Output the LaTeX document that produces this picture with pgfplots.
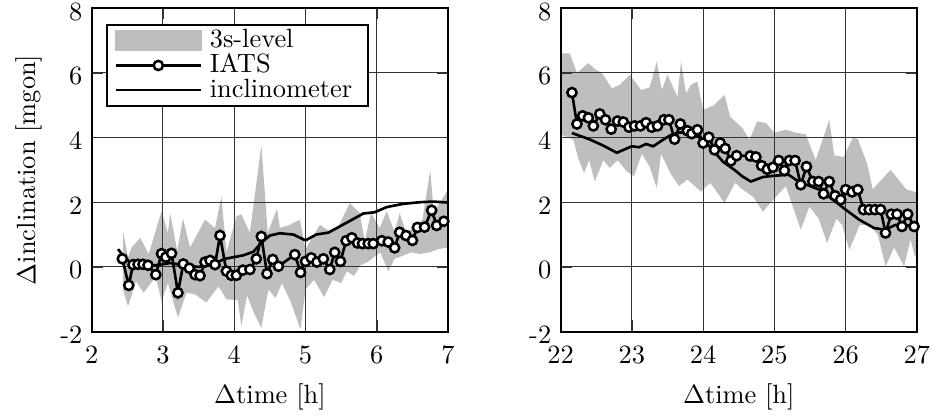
\documentclass[border=0pt]{standalone}
\usepackage{pgfplots}
\pgfplotsset{compat=1.18}
\definecolor{bandgray}{RGB}{190,190,190}
\pgfplotsset{
  bandlegend/.style={legend image code/.code={\fill[bandgray] (0pt,-3.6pt) rectangle (32pt,3.6pt);}},
  longlegend/.style={legend image code/.code={\draw[mark repeat=2,mark phase=2,##1] plot coordinates {(0pt,0pt) (16pt,0pt) (32pt,0pt)};}},
  myaxis/.style={scale only axis, width=135pt, height=122.5pt, set layers,
    ymin=-2, ymax=8, ytick={-2,0,2,4,6,8}, yticklabels={-2,0,2,4,6,8},
    grid=major, major grid style={line width=0.4pt, black!80},
    axis line style={line width=0.8pt}, tick style={black!80},
    yticklabel style={yshift=-1.3pt}, xticklabel style={yshift=-2pt},
    xlabel style={yshift=-1pt},
    xlabel={$\Delta$time [h]}},
  iats/.style={black, line width=1pt, mark=*, mark size=1.75pt, mark options={fill=white, draw=black, line width=0.95pt, solid}},
  incl/.style={black, line width=1pt, no marks},
  band/.style={fill=bandgray, draw=none, on layer=axis background, forget plot},
}
\begin{document}
\begin{tikzpicture}
\begin{axis}[myaxis, at={(0,0)}, anchor=south west, xmin=2, xmax=7, xtick={2,3,4,5,6,7},
  ylabel={$\Delta$inclination [mgon]},
  legend style={at={(0.04,0.952)}, anchor=north west, draw=black, line width=0.7pt,
    inner xsep=3pt, inner ysep=1.5pt, row sep=0pt,
    nodes={inner xsep=3pt, inner ysep=0.4pt, text depth=0.15em}},
  legend cell align=left]
\addlegendimage{bandlegend}
\addlegendentry{3s-level}
\addlegendimage{iats, longlegend}
\addlegendentry{IATS}
\addlegendimage{incl, longlegend}
\addlegendentry{inclinometer}
\addplot[band] coordinates {
(2.44,1.10) (2.51,0.30) (2.56,0.60) (2.68,0.90) (2.80,0.40) (2.98,1.72) (3.07,1.05) (3.10,1.67)
(3.20,0.50) (3.28,1.50) (3.38,0.60) (3.59,1.46) (3.73,1.20) (3.82,2.18) (3.89,0.45) (4.03,1.56)
(4.10,1.63) (4.22,1.05) (4.38,3.77) (4.47,1.05) (4.60,1.80) (4.64,1.20) (4.78,1.30) (4.92,1.46)
(5.00,0.54) (5.08,0.85) (5.20,1.30) (5.34,1.10) (5.45,1.20) (5.62,1.97) (5.76,1.67) (5.83,0.80)
(5.92,1.67) (6.04,1.20) (6.14,1.72) (6.25,1.07) (6.32,1.67) (6.41,1.07) (6.50,1.20) (6.64,1.46)
(6.75,3.00) (6.80,1.67) (6.98,2.33) (7.00,2.35)
(7.00,0.60) (6.86,0.55) (6.74,0.45) (6.60,0.40) (6.48,0.45) (6.37,0.35) (6.25,0.25) (6.16,-0.13)
(6.05,0.45) (5.87,0.15) (5.77,0.05) (5.68,-0.28) (5.58,-0.13) (5.50,-0.50) (5.38,-0.40) (5.26,-0.93)
(5.12,-0.40) (5.00,-0.70) (4.93,-1.93) (4.79,-1.07) (4.67,-0.50) (4.58,-0.96) (4.48,-0.70) (4.38,-1.88)
(4.27,-1.40) (4.18,-0.87) (4.10,-1.83) (4.05,-1.03) (3.89,-1.00) (3.78,-0.60) (3.61,-1.10) (3.45,-0.85)
(3.33,-0.80) (3.21,-1.57) (3.07,-0.50) (2.98,-1.06) (2.90,-0.30) (2.73,-0.80) (2.62,-0.45) (2.51,-1.22)
(2.44,-0.70)} -- cycle;
\addplot[incl, forget plot] coordinates {
(2.37,0.55) (2.45,0.32) (2.55,0.12) (2.70,0.05) (2.90,0.05) (3.10,0.12) (3.30,0.05) (3.50,0.00)
(3.70,0.08) (3.87,0.25) (4.13,0.36) (4.27,0.47) (4.38,0.75) (4.50,0.97) (4.64,1.04) (4.83,1.00)
(5.00,0.82) (5.15,1.00) (5.32,1.06) (5.48,1.25) (5.67,1.48) (5.81,1.65) (5.97,1.69) (6.14,1.85)
(6.37,1.95) (6.60,2.00) (6.79,2.02) (7.00,1.99)};
\addplot[iats, forget plot] coordinates {
(2.43,0.25) (2.52,-0.57) (2.58,0.07) (2.65,0.08) (2.72,0.08) (2.79,0.05) (2.90,-0.24) (2.98,0.41)
(3.04,0.30) (3.12,0.42) (3.21,-0.80) (3.285,0.09) (3.37,-0.04) (3.45,-0.24) (3.52,-0.27) (3.59,0.15)
(3.66,0.20) (3.73,0.07) (3.80,0.97) (3.89,-0.13) (3.96,-0.26) (4.03,-0.26) (4.12,-0.10) (4.22,-0.08)
(4.31,0.25) (4.38,0.94) (4.46,-0.21) (4.54,0.23) (4.62,0.02) (4.85,0.38) (4.93,-0.17) (5.00,0.17)
(5.08,0.28) (5.16,0.15) (5.25,0.25) (5.34,-0.08) (5.41,0.45) (5.49,0.17) (5.57,0.81) (5.65,0.90)
(5.73,0.74) (5.80,0.72) (5.88,0.72) (5.95,0.72) (6.07,0.81) (6.16,0.77) (6.25,0.59) (6.32,1.07)
(6.41,0.97) (6.50,0.82) (6.57,1.22) (6.67,1.23) (6.77,1.75) (6.84,1.28) (6.94,1.41)};
\end{axis}
\begin{axis}[myaxis, at={(177.6pt,0)}, anchor=south west, xmin=22, xmax=27, xtick={22,23,24,25,26,27}]
\addplot[band] coordinates {
(22.00,6.60) (22.13,6.60) (22.23,6.00) (22.39,6.30) (22.50,6.09) (22.58,6.00) (22.72,5.52) (22.83,5.63)
(22.97,5.94) (23.13,5.47) (23.25,5.55) (23.35,6.35) (23.42,5.47) (23.50,5.94) (23.64,5.26) (23.69,6.35)
(23.76,5.37) (23.83,5.63) (23.92,5.73) (24.00,4.85) (24.15,5.00) (24.30,5.32) (24.38,4.64) (24.55,4.30)
(24.65,3.93) (24.76,4.50) (24.88,4.45) (25.00,4.15) (25.16,4.24) (25.30,4.15) (25.44,4.10) (25.58,3.30)
(25.77,4.55) (25.84,3.45) (25.97,3.40) (26.10,4.00) (26.17,3.95) (26.30,3.20) (26.38,2.40) (26.63,3.00)
(26.85,2.40) (27.00,2.30)
(27.00,0.50) (26.97,0.30) (26.91,0.86) (26.82,0.02) (26.68,0.60) (26.56,0.02) (26.45,1.00) (26.33,1.30)
(26.20,1.30) (26.05,0.53) (25.95,1.30) (25.87,1.50) (25.74,0.74) (25.62,1.50) (25.49,1.86) (25.37,1.15)
(25.16,2.50) (24.98,2.07) (24.84,1.71) (24.70,2.17) (24.55,2.40) (24.45,2.60) (24.30,1.98) (24.10,2.60)
(23.97,2.33) (23.78,2.70) (23.66,2.50) (23.54,2.90) (23.41,3.50) (23.35,2.44) (23.25,3.10) (23.14,3.50)
(23.03,2.80) (22.93,2.95) (22.80,3.30) (22.69,3.06) (22.60,3.30) (22.48,2.64) (22.40,3.30) (22.33,2.90)
(22.25,3.35) (22.18,3.93) (22.00,4.10)} -- cycle;
\addplot[incl] coordinates {
(22.16,4.14) (22.40,3.95) (22.60,3.75) (22.79,3.53) (23.00,3.73) (23.10,3.70) (23.20,3.80) (23.30,3.73)
(23.45,3.95) (23.55,4.08) (23.67,4.16) (23.80,4.12) (23.90,4.08) (24.05,3.83) (24.16,3.55) (24.28,3.25)
(24.44,3.00) (24.55,2.80) (24.67,2.64) (24.84,2.78) (25.00,2.82) (25.20,2.85) (25.35,2.62) (25.50,2.50)
(25.63,2.39) (25.82,2.08) (26.00,1.77) (26.19,1.46) (26.40,1.20) (26.55,1.15) (26.70,1.30) (26.98,1.27)};
\addplot[iats] coordinates {
(22.16,5.39) (22.23,4.42) (22.31,4.67) (22.39,4.61) (22.46,4.36) (22.55,4.73) (22.63,4.55) (22.71,4.26)
(22.80,4.51) (22.88,4.48) (22.96,4.32) (23.04,4.36) (23.12,4.36) (23.20,4.46) (23.28,4.32) (23.36,4.36)
(23.45,4.55) (23.52,4.55) (23.60,3.95) (23.68,4.42) (23.78,4.21) (23.84,4.12) (23.92,4.24) (24.00,3.83)
(24.08,4.01) (24.16,3.62) (24.24,3.83) (24.31,3.66) (24.39,3.28) (24.47,3.44) (24.66,3.43) (24.74,3.40)
(24.82,3.13) (24.90,3.02) (24.98,3.08) (25.06,3.29) (25.14,2.98) (25.21,3.29) (25.29,3.29) (25.37,2.54)
(25.45,3.10) (25.54,2.64) (25.62,2.64) (25.69,2.26) (25.77,2.64) (25.85,2.20) (25.93,2.08) (26.00,2.39)
(26.09,2.32) (26.17,2.39) (26.25,1.77) (26.33,1.77) (26.41,1.77) (26.49,1.77) (26.56,1.05) (26.64,1.63)
(26.72,1.63) (26.79,1.25) (26.87,1.63) (26.96,1.25)};
\end{axis}
\pgfresetboundingbox
\path[use as bounding box] (-34.73pt,-32.46pt) rectangle (318.3pt,125.6pt);
\end{tikzpicture}
\end{document}
